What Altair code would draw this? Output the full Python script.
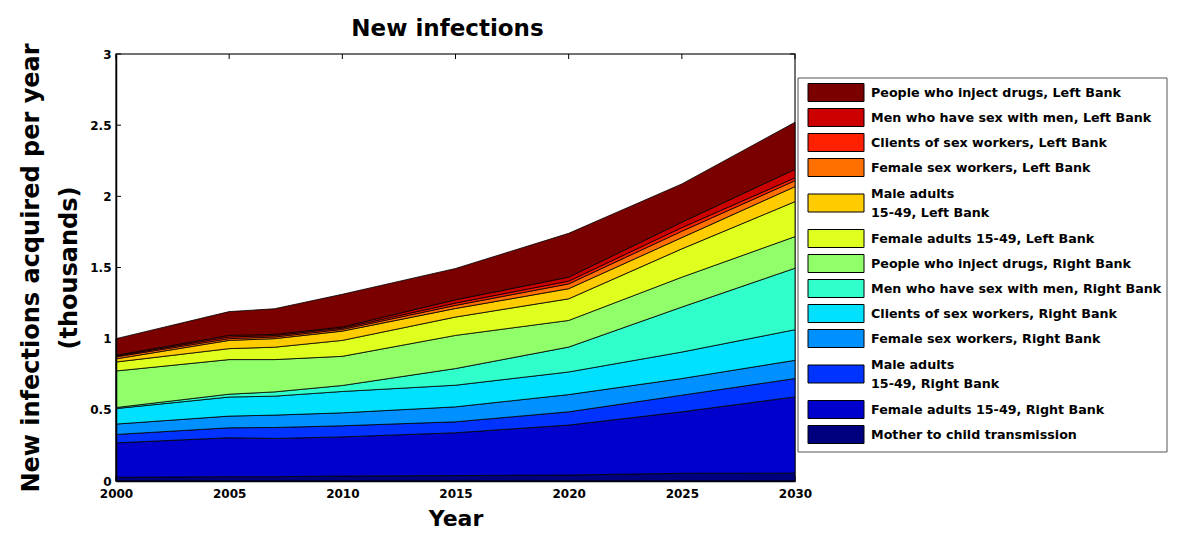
import altair as alt
import pandas as pd

# ---------------- data (thousands of new infections per year) ----------------
years = [2000, 2005, 2007, 2010, 2015, 2020, 2025, 2030]

# series in stacking order (bottom -> top)
series_names = [
    "Mother to child transmission",
    "Female adults 15-49, Right Bank",
    "Male adults\n15-49, Right Bank",
    "Female sex workers, Right Bank",
    "Clients of sex workers, Right Bank",
    "Men who have sex with men, Right Bank",
    "People who inject drugs, Right Bank",
    "\u00a0Female adults 15-49, Left Bank",
    "Male adults\n15-49, Left Bank",
    "Female sex workers, Left Bank",
    "Clients of sex workers, Left Bank",
    "Men who have sex with men, Left Bank",
    "People who inject drugs, Left Bank",
]

mtct    = [0.026, 0.030, 0.030, 0.035, 0.038, 0.042, 0.054, 0.055]
fem_rb  = [0.242, 0.274, 0.269, 0.275, 0.301, 0.351, 0.432, 0.536]
male_rb = [0.059, 0.070, 0.077, 0.078, 0.077, 0.093, 0.117, 0.129]
fsw_rb  = [0.073, 0.082, 0.087, 0.091, 0.105, 0.121, 0.117, 0.128]
cli_rb  = [0.109, 0.134, 0.133, 0.150, 0.152, 0.159, 0.186, 0.215]
msm_rb  = [0.007, 0.020, 0.030, 0.042, 0.117, 0.175, 0.316, 0.432]
pwid_rb = [0.257, 0.243, 0.227, 0.205, 0.233, 0.187, 0.210, 0.222]
fem_lb  = [0.063, 0.077, 0.087, 0.112, 0.129, 0.152, 0.199, 0.246]
male_lb = [0.022, 0.058, 0.060, 0.065, 0.060, 0.071, 0.079, 0.105]
fsw_lb  = [0.014, 0.012, 0.012, 0.012, 0.022, 0.034, 0.045, 0.042]
cli_lb  = [0.006, 0.012, 0.010, 0.009, 0.016, 0.019, 0.025, 0.020]
msm_lb  = [0.005, 0.011, 0.008, 0.008, 0.023, 0.028, 0.038, 0.060]
pwid_lb = [0.117, 0.167, 0.180, 0.230, 0.220, 0.308, 0.269, 0.330]

series_values = [mtct, fem_rb, male_rb, fsw_rb, cli_rb, msm_rb, pwid_rb,
                 fem_lb, male_lb, fsw_lb, cli_lb, msm_lb, pwid_lb]

# colours in stacking order (bottom -> top), jet-like
series_colors = [
    "#00007f", "#0000cc", "#0033ff", "#0090ff", "#00e0ff", "#30ffcc",
    "#90ff6a", "#dfff1f", "#ffcc00", "#ff7000", "#ff2000", "#cc0000", "#7a0000",
]

y_tick_values = [0, 0.5, 1, 1.5, 2, 2.5, 3]
x_tick_values = [2000, 2005, 2010, 2015, 2020, 2025, 2030]

# ---------------- build tables ----------------
rows = []
for idx, (name, vals) in enumerate(zip(series_names, series_values)):
    for yr, v in zip(years, vals):
        rows.append({"year": yr, "series": name, "value": v, "stack": idx})
df = pd.DataFrame(rows)

legend_order = list(reversed(series_names))
legend_colors = list(reversed(series_colors))

W, H = 679, 427
FONT = "DejaVu Sans"

# legend layout (pixels relative to the plot's top-left corner)
LEG_X1, LEG_X2, LEG_Y1, LEG_Y2 = 682, 1051, 24, 398
SW_X1, SW_X2, TXT_X = 692, 748, 755
ROW, LINE_H, SW_H = 25, 19, 18
leg_rows = []
cy = 38.5
prev_lines = 1
for i, name in enumerate(legend_order):
    n = name.count("\n") + 1
    if i > 0:
        cy += ROW + (LINE_H / 2 + 1) * (prev_lines - 1) + (LINE_H / 2 + 1) * (n - 1)
    leg_rows.append({"series": name, "label": name,
                     "sy1": cy - SW_H / 2, "sy2": cy + SW_H / 2,
                     "ty": cy - LINE_H * (n - 1) / 2})
    prev_lines = n
leg_df = pd.DataFrame(leg_rows)

x_scale = alt.Scale(domain=[2000, 2030], nice=False, zero=False)
y_scale = alt.Scale(domain=[0, 3], nice=False)
color_scale = alt.Scale(domain=legend_order, range=legend_colors)

x_axis = alt.Axis(values=x_tick_values, format="d", title="Year",
                  ticks=False, domain=True, domainColor="black",
                  domainWidth=1.5, labelPadding=7, titlePadding=9,
                  labelFlush=False, zindex=1, grid=False)
y_axis = alt.Axis(values=y_tick_values, format="~g",
                  title=["New infections acquired per year", "(thousands)"],
                  ticks=False, domain=True, domainColor="black",
                  domainWidth=1.5, labelPadding=5, titlePadding=8,
                  labelFlush=False, titleLineHeight=38, zindex=1, grid=False)

area = alt.Chart(df).mark_area(
    stroke="black", strokeWidth=0.8, interpolate="linear", opacity=1
).encode(
    x=alt.X("year:Q", scale=x_scale, axis=x_axis),
    y=alt.Y("value:Q", stack="zero", scale=y_scale, axis=y_axis),
    color=alt.Color("series:N", scale=color_scale, legend=None),
    order=alt.Order("stack:Q", sort="ascending"),
)

ydf = pd.DataFrame({"v": y_tick_values})
xdf = pd.DataFrame({"t": x_tick_values})

ytick_l = alt.Chart(ydf).mark_rule(color="black", strokeWidth=1).encode(
    y=alt.Y("v:Q", scale=y_scale, axis=y_axis), x=alt.value(0), x2=alt.value(5))
ytick_r = alt.Chart(ydf).mark_rule(color="black", strokeWidth=1).encode(
    y=alt.Y("v:Q", scale=y_scale, axis=y_axis), x=alt.value(W - 5), x2=alt.value(W))
xtick_b = alt.Chart(xdf).mark_rule(color="black", strokeWidth=1).encode(
    x=alt.X("t:Q", scale=x_scale, axis=x_axis), y=alt.value(H), y2=alt.value(H - 5))
xtick_t = alt.Chart(xdf).mark_rule(color="black", strokeWidth=1).encode(
    x=alt.X("t:Q", scale=x_scale, axis=x_axis), y=alt.value(0), y2=alt.value(5))

# ---------------- hand-built legend ----------------
leg_box = alt.Chart(pd.DataFrame({"k": [0]})).mark_rect(
    fill="white", stroke="#555", strokeWidth=1
).encode(x=alt.value(LEG_X1), x2=alt.value(LEG_X2),
         y=alt.value(LEG_Y1), y2=alt.value(LEG_Y2))

leg_sw = alt.Chart(leg_df).mark_rect(stroke="black", strokeWidth=1).encode(
    x=alt.value(SW_X1), x2=alt.value(SW_X2),
    y=alt.Y("sy1:Q", scale=None), y2=alt.Y2("sy2:Q"),
    color=alt.Color("series:N", scale=color_scale, legend=None),
)

leg_txt = alt.Chart(leg_df).mark_text(
    align="left", baseline="middle", font=FONT, fontWeight="bold",
    fontSize=12.7, color="black", lineBreak="\n", lineHeight=LINE_H
).encode(
    x=alt.value(TXT_X),
    y=alt.Y("ty:Q", scale=None),
    text=alt.Text("label:N"),
)

chart = alt.layer(ytick_l, ytick_r, xtick_b, xtick_t, area,
                  leg_box, leg_sw, leg_txt).properties(
    width=W, height=H,
    title=alt.TitleParams("New infections", fontSize=23, font=FONT,
                          fontWeight="bold", color="black", anchor="middle",
                          offset=7, dx=-8, dy=5),
    autosize=alt.AutoSizeParams(type="none"),
    padding={"left": 108, "top": 46, "right": 374, "bottom": 45},
).configure(
    font=FONT,
).configure_axis(
    labelFont=FONT, labelFontSize=12, labelFontWeight="bold", labelColor="black",
    titleFont=FONT, titleFontWeight="bold", titleColor="black",
).configure_axisX(
    titleFontSize=22,
).configure_axisY(
    titleFontSize=24,
).configure_view(
    stroke="#444", strokeWidth=1.5,
)

chart.save("out.html", embed_options={"renderer": "svg", "actions": False})
